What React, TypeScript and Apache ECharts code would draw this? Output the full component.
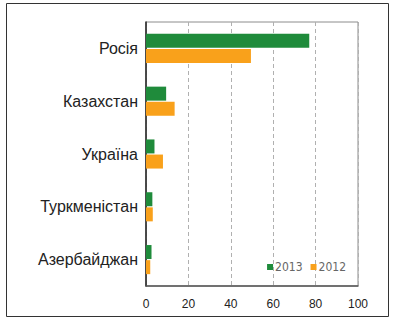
import React, { useEffect, useRef } from "react";
import * as echarts from "echarts";

const categories = ["Росія", "Казахстан", "Україна", "Туркменістан", "Азербайджан"];
const values2013 = [77, 9.5, 4, 3, 2.6];
const values2012 = [49.5, 13.5, 8, 3.2, 2];
const seriesNames = ["2013", "2012"];
const xTicks = { min: 0, max: 100, interval: 20 };

export default function App() {
  const ref = useRef<HTMLDivElement>(null);
  useEffect(() => {
    if (!ref.current) return;
    const chart = echarts.init(ref.current, null, { renderer: "svg" });
    chart.setOption({
      animation: false,
      backgroundColor: "#ffffff",
      grid: {
        left: 146,
        right: 45,
        top: 22,
        bottom: 34,
        show: true,
        borderColor: "#8c8c8c",
        borderWidth: 1,
      },
      legend: {
        data: seriesNames,
        right: 52,
        bottom: 42,
        icon: "rect",
        itemWidth: 6,
        itemHeight: 6,
        itemGap: 8,
        textStyle: {
          fontFamily: "'DejaVu Sans Condensed', 'Liberation Sans Narrow', sans-serif",
          fontSize: 12,
          color: "#666",
          padding: [0, 0, 0, -3],
        },
      },
      graphic: [
        {
          type: "rect",
          shape: { x: 6.5, y: 3.5, width: 382, height: 313 },
          style: { fill: "none", stroke: "#333", lineWidth: 1 },
          silent: true,
        },
      ],
      xAxis: {
        type: "value",
        min: xTicks.min,
        max: xTicks.max,
        interval: xTicks.interval,
        axisLine: { show: true, lineStyle: { color: "#555", width: 1.5 } },
        axisTick: { show: false },
        axisLabel: {
          margin: 12,
          fontFamily: "'Liberation Sans', Arial, sans-serif",
          fontSize: 12,
          color: "#222",
        },
        splitLine: { show: true, lineStyle: { color: "#b0b0b0", type: [4, 3], width: 1 } },
      },
      yAxis: {
        type: "category",
        data: categories,
        inverse: true,
        axisLine: { show: true, lineStyle: { color: "#222", width: 1.5 } },
        axisTick: { show: false },
        axisLabel: {
          margin: 8,
          fontFamily: "'Liberation Sans', Arial, sans-serif",
          fontSize: 16,
          color: "#222",
        },
      },
      series: [
        {
          name: seriesNames[0],
          type: "bar",
          data: values2013,
          barWidth: 14,
          barGap: "8%",
          itemStyle: { color: "#1f8b3b" },
        },
        {
          name: seriesNames[1],
          type: "bar",
          data: values2012,
          barWidth: 14,
          barGap: "8%",
          itemStyle: { color: "#f9a11b" },
        },
      ],
    });
    return () => chart.dispose();
  }, []);
  return (
    <div style={{ position: "fixed", left: 0, top: 0, width: 403, height: 320 }}>
      <div ref={ref} style={{ width: 403, height: 320 }} />
    </div>
  );
}
